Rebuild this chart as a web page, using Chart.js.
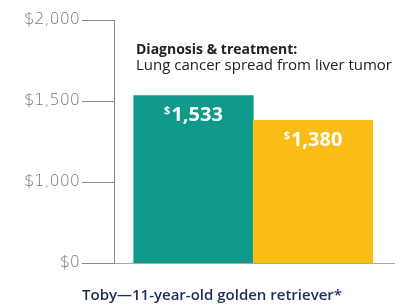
<!DOCTYPE html>
<html>
<head>
<meta charset="utf-8">
<script src="https://cdn.jsdelivr.net/npm/chart.js@4.4.1/dist/chart.umd.min.js"></script>
<style>
html,body{margin:0;padding:0;background:#fff;}
#wrap{width:401px;height:307px;position:relative;}
</style>
</head>
<body>
<div id="wrap"><canvas id="c" width="401" height="307"></canvas></div>
<script>
// Data
const categories = ['Cost A', 'Cost B'];
const costValues = [1533, 1380];
const barColors = ['#0e998a', '#f9bd16'];
const tickValues = [500, 1000, 1500, 2000];
const tickLabels = ['$0', '$1,000', '$1,500', '$2,000'];
const annotationTitle = 'Diagnosis & treatment:';
const annotationText = 'Lung cancer spread from liver tumor';
const chartTitle = 'Toby\u201411-year-old golden retriever*';

const AXIS_MIN = tickValues[0];
const AXIS_MAX = tickValues[tickValues.length - 1];

const textPlugin = {
  id: 'texts',
  afterDatasetsDraw(chart) {
    const ctx = chart.ctx;
    const meta = chart.getDatasetMeta(0);
    ctx.save();
    // value labels inside bars
    meta.data.forEach((bar, i) => {
      const v = costValues[i];
      const num = v.toLocaleString('en-US');
      const y = bar.y + 20;
      ctx.font = 'bold 20px "Open Sans", sans-serif';
      const wNum = ctx.measureText(num).width;
      ctx.font = 'bold 11px "Open Sans", sans-serif';
      const wDol = ctx.measureText('$').width;
      const total = wNum + wDol + 1;
      const x0 = bar.x - total / 2;
      ctx.fillStyle = '#ffffff';
      ctx.textBaseline = 'middle';
      ctx.textAlign = 'left';
      ctx.fillText('$', x0, y - 5);
      ctx.font = 'bold 20px "Open Sans", sans-serif';
      ctx.fillText(num, x0 + wDol + 1, y);
    });
    // annotation
    ctx.fillStyle = '#222222';
    ctx.textAlign = 'left';
    ctx.textBaseline = 'middle';
    ctx.font = 'bold 14px "Open Sans", sans-serif';
    ctx.fillText(annotationTitle, 136, 50);
    ctx.font = '15px "Open Sans", sans-serif';
    ctx.fillText(annotationText, 136, 66);
    // bottom title
    ctx.fillStyle = '#1c2f5c';
    ctx.textAlign = 'center';
    ctx.font = '600 15px "Open Sans", sans-serif';
    ctx.fillText(chartTitle, 212, 296);
    ctx.restore();
  }
};

new Chart(document.getElementById('c'), {
  type: 'bar',
  data: {
    datasets: [{
      data: costValues.map((v, i) => ({ x: i + 1, y: v })),
      backgroundColor: barColors,
      borderWidth: 0,
      barPercentage: 1,
      categoryPercentage: 1
    }]
  },
  options: {
    responsive: false,
    animation: false,
    devicePixelRatio: 1,
    layout: { padding: { top: 20, right: 6, bottom: 44, left: 0 } },
    plugins: { legend: { display: false }, tooltip: { enabled: false }, title: { display: false } },
    scales: {
      x: {
        type: 'linear',
        offset: false,
        min: 0.335,
        max: 2.686,
        display: false,
        afterBuildTicks(scale) { scale.ticks = categories.map((c, i) => ({ value: i + 1 })); },
        grid: { display: false, offset: false }
      },
      y: {
        min: AXIS_MIN,
        max: AXIS_MAX,
        afterBuildTicks(scale) { scale.ticks = tickValues.map(v => ({ value: v })); },
        afterFit(scale) { scale.width = 114; },
        border: { display: true, color: '#8a8a8a', width: 1 },
        grid: {
          drawOnChartArea: true,
          color: (c) => (c.tick && c.tick.value === AXIS_MIN) ? '#a8a8a8' : 'rgba(0,0,0,0)',
          tickColor: '#8a8a8a',
          tickLength: 32,
          lineWidth: 1
        },
        ticks: {
          padding: 2,
          color: '#777777',
          font: { family: '"DejaVu Sans", sans-serif', size: 16, weight: 200 },
          callback: (v) => {
            const idx = tickValues.indexOf(v);
            return idx >= 0 ? tickLabels[idx] : '';
          }
        }
      }
    }
  },
  plugins: [textPlugin]
});
</script>
</body>
</html>
